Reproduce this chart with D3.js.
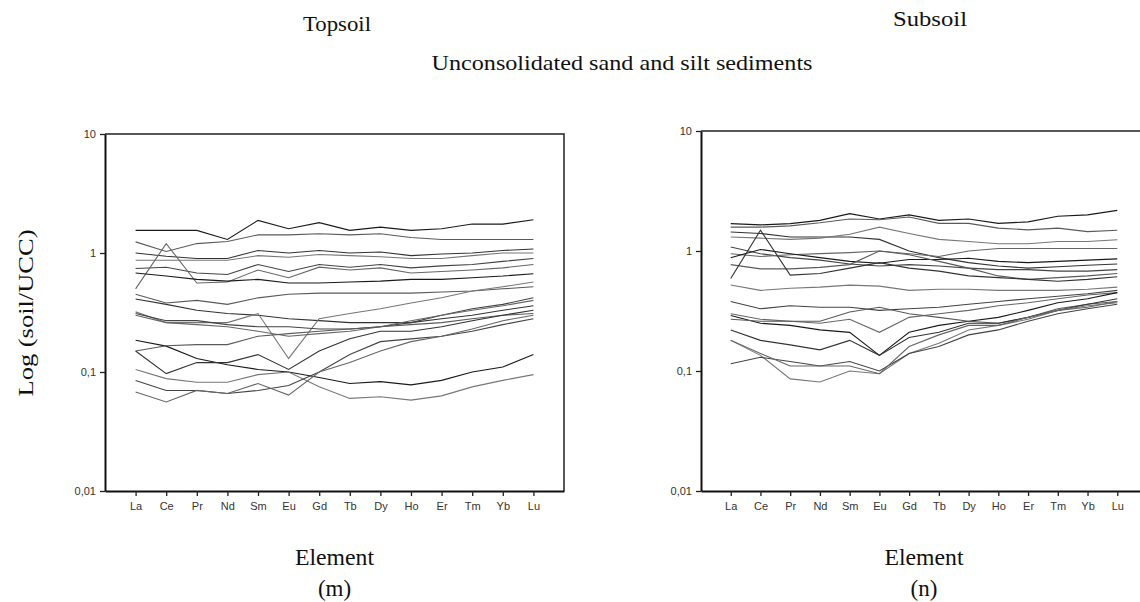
<!DOCTYPE html>
<html>
<head>
<meta charset="utf-8">
<script src="https://cdn.jsdelivr.net/npm/d3@7"></script>
<style>
  body { margin: 0; background: #fff; }
  .serif { font-family: "Liberation Serif", "DejaVu Serif", serif; fill: #111; }
  .tick text { font-family: "Liberation Sans", Arial, sans-serif; font-size: 11px; fill: #333; }
</style>
</head>
<body>
<svg id="chart" width="1140" height="602"></svg>
<script>
// REE elements on the x axis
const elements = ["La", "Ce", "Pr", "Nd", "Sm", "Eu", "Gd", "Tb", "Dy", "Ho", "Er", "Tm", "Yb", "Lu"];

// log axis ticks
const yTicks = [10, 1, 0.1, 0.01];

// Topsoil (m) - one array per sample, La..Lu
const topsoilSeries = [
    [1.55, 1.55, 1.55, 1.3, 1.88, 1.6, 1.8, 1.55, 1.65, 1.55, 1.6, 1.75, 1.75, 1.9],
    [1.24, 1.03, 1.2, 1.25, 1.42, 1.42, 1.45, 1.42, 1.45, 1.35, 1.3, 1.3, 1.3, 1.3],
    [1.0, 0.94, 0.9, 0.9, 1.05, 1.0, 1.05, 1.0, 1.02, 0.95, 0.98, 1.0, 1.05, 1.08],
    [0.87, 0.87, 0.87, 0.87, 0.95, 0.92, 0.97, 0.95, 0.93, 0.9, 0.9, 0.95, 1.0, 1.0],
    [0.74, 0.76, 0.68, 0.66, 0.8, 0.7, 0.8, 0.76, 0.8, 0.75, 0.78, 0.8, 0.85, 0.9],
    [0.5, 1.2, 0.56, 0.57, 0.72, 0.62, 0.76, 0.72, 0.75, 0.68, 0.7, 0.72, 0.75, 0.8],
    [0.68, 0.64, 0.6, 0.58, 0.6, 0.56, 0.56, 0.57, 0.58, 0.6, 0.6, 0.62, 0.64, 0.67],
    [0.45, 0.38, 0.4, 0.37, 0.42, 0.45, 0.46, 0.46, 0.46, 0.46, 0.47, 0.48, 0.5, 0.52],
    [0.41, 0.37, 0.33, 0.31, 0.3, 0.28, 0.27, 0.26, 0.26, 0.26, 0.28, 0.3, 0.33, 0.36],
    [0.32, 0.26, 0.26, 0.26, 0.31, 0.13, 0.28, 0.31, 0.34, 0.38, 0.42, 0.48, 0.52, 0.57],
    [0.31, 0.27, 0.27, 0.25, 0.24, 0.24, 0.23, 0.23, 0.24, 0.26, 0.3, 0.34, 0.37, 0.42],
    [0.3, 0.26, 0.25, 0.24, 0.22, 0.2, 0.21, 0.22, 0.24, 0.27, 0.3, 0.33, 0.36, 0.4],
    [0.185, 0.165, 0.13, 0.115, 0.105, 0.1, 0.09, 0.08, 0.083, 0.078, 0.085, 0.1, 0.11, 0.14],
    [0.15, 0.166, 0.17, 0.17, 0.2, 0.21, 0.22, 0.23, 0.24, 0.25, 0.26, 0.28, 0.3, 0.31],
    [0.15, 0.097, 0.12, 0.12, 0.14, 0.105, 0.15, 0.19, 0.22, 0.22, 0.24, 0.27, 0.3, 0.33],
    [0.105, 0.088, 0.082, 0.082, 0.095, 0.1, 0.075, 0.06, 0.062, 0.058, 0.063, 0.075, 0.085, 0.095],
    [0.085, 0.07, 0.07, 0.066, 0.07, 0.077, 0.1, 0.14, 0.18, 0.19, 0.2, 0.22, 0.25, 0.28],
    [0.068, 0.056, 0.07, 0.066, 0.08, 0.064, 0.1, 0.12, 0.15, 0.18, 0.2, 0.23, 0.27, 0.3]
];

// Subsoil (n)
const subsoilSeries = [
    [1.69, 1.65, 1.69, 1.8, 2.05, 1.85, 2.0, 1.8, 1.85, 1.7, 1.75, 1.95, 2.0, 2.18],
    [1.58, 1.58, 1.62, 1.72, 1.85, 1.82, 1.92, 1.7, 1.7, 1.55, 1.5, 1.55, 1.45, 1.49],
    [1.44, 1.4, 1.31, 1.31, 1.31, 1.25, 1.0, 0.88, 0.8, 0.75, 0.72, 0.74, 0.76, 0.78],
    [1.31, 1.28, 1.25, 1.28, 1.38, 1.58, 1.4, 1.25, 1.2, 1.15, 1.15, 1.2, 1.2, 1.24],
    [1.08, 0.95, 0.88, 0.84, 0.78, 0.75, 0.77, 0.75, 0.72, 0.7, 0.7, 0.68, 0.68, 0.7],
    [0.95, 0.9, 0.93, 0.95, 0.97, 1.0, 0.95, 0.9, 1.0, 1.05, 1.05, 1.05, 1.05, 1.05],
    [0.88, 1.03, 0.95, 0.88, 0.82, 0.79, 0.85, 0.85, 0.87, 0.82, 0.8, 0.82, 0.84, 0.86],
    [0.77, 0.71, 0.71, 0.73, 0.77, 1.0, 0.93, 0.82, 0.72, 0.62, 0.58, 0.6, 0.62, 0.65],
    [0.59, 1.49, 0.63, 0.65, 0.72, 0.8, 0.72, 0.68, 0.62, 0.6, 0.58, 0.56, 0.58, 0.61],
    [0.52, 0.47, 0.49, 0.5, 0.52, 0.51, 0.47, 0.48, 0.48, 0.47, 0.47, 0.47, 0.48, 0.5],
    [0.38, 0.33, 0.35, 0.34, 0.34, 0.32, 0.33, 0.34, 0.36, 0.38, 0.4, 0.42, 0.44, 0.47],
    [0.3, 0.27, 0.26, 0.25, 0.27, 0.21, 0.28, 0.3, 0.32, 0.35, 0.37, 0.4, 0.43, 0.45],
    [0.29, 0.25, 0.24, 0.22, 0.21, 0.135, 0.21, 0.24, 0.26, 0.28, 0.32, 0.37, 0.4, 0.45],
    [0.27, 0.26, 0.26, 0.26, 0.31, 0.34, 0.3, 0.28, 0.26, 0.25, 0.28, 0.33, 0.36, 0.38],
    [0.22, 0.18, 0.165, 0.15, 0.18, 0.135, 0.19, 0.21, 0.25, 0.25, 0.28, 0.32, 0.36, 0.4],
    [0.18, 0.135, 0.086, 0.081, 0.1, 0.095, 0.14, 0.17, 0.22, 0.24, 0.27, 0.32, 0.35, 0.37],
    [0.115, 0.13, 0.12, 0.11, 0.12, 0.1, 0.14, 0.16, 0.2, 0.22, 0.26, 0.3, 0.33, 0.36],
    [0.18, 0.14, 0.11, 0.11, 0.11, 0.095, 0.16, 0.2, 0.24, 0.24, 0.28, 0.32, 0.34, 0.38]
];

const lineColors = ["#1a1a1a", "#5a5a5a", "#333", "#777", "#444", "#666"];

// decimal comma, like the original
const fmt = d3.formatLocale({ decimal: ",", thousands: ".", grouping: [3], currency: ["", ""] }).format("~g");

const svg = d3.select("#chart");

function drawPanel(cfg) {
    const x = d3.scalePoint()
        .domain(elements)
        .range([cfg.left, cfg.right])
        .padding(1);

    const y = d3.scaleLog()
        .domain([0.01, 10])
        .range([cfg.bottom, cfg.top]);

    const g = svg.append("g");

    // frame (top + right)
    g.append("path")
        .attr("d", `M${cfg.left},${cfg.top}H${cfg.right}V${cfg.bottom}`)
        .attr("fill", "none")
        .attr("stroke", "#222")
        .attr("stroke-width", 1.5);

    const line = d3.line()
        .x((d, i) => x(elements[i]))
        .y(d => y(d));

    g.selectAll(".series")
        .data(cfg.series)
        .enter()
        .append("path")
        .attr("class", "series")
        .attr("d", line)
        .attr("fill", "none")
        .attr("stroke", (d, i) => lineColors[i % lineColors.length])
        .attr("stroke-width", 1.1);

    const xAxis = g.append("g")
        .attr("transform", `translate(0,${cfg.bottom})`)
        .call(d3.axisBottom(x).tickSize(5).tickSizeOuter(0).tickPadding(6));

    const yAxis = g.append("g")
        .attr("transform", `translate(${cfg.left},0)`)
        .call(d3.axisLeft(y).tickValues(yTicks).tickFormat(fmt).tickSize(5).tickSizeOuter(0).tickPadding(4));

    [xAxis, yAxis].forEach(a => {
        a.select(".domain").attr("stroke", "#111").attr("stroke-width", 2);
        a.selectAll(".tick line").attr("stroke", "#222").attr("stroke-width", 1.3);
    });

    // axis titles
    g.append("text")
        .attr("class", "serif")
        .attr("x", (cfg.left + cfg.right) / 2)
        .attr("y", 565)
        .attr("text-anchor", "middle")
        .attr("font-size", 24)
        .attr("textLength", 79)
        .attr("lengthAdjust", "spacingAndGlyphs")
        .text("Element");

    g.append("text")
        .attr("class", "serif")
        .attr("x", (cfg.left + cfg.right) / 2)
        .attr("y", 596)
        .attr("text-anchor", "middle")
        .attr("font-size", 23)
        .text(cfg.tag);
}

drawPanel({ left: 105, right: 564, top: 134, bottom: 491, series: topsoilSeries, tag: "(m)" });
drawPanel({ left: 701, right: 1147, top: 131, bottom: 491, series: subsoilSeries, tag: "(n)" });

// headings
svg.append("text")
    .attr("class", "serif")
    .attr("x", 337).attr("y", 31)
    .attr("text-anchor", "middle")
    .attr("font-size", 22)
    .attr("textLength", 68)
    .attr("lengthAdjust", "spacingAndGlyphs")
    .text("Topsoil");

svg.append("text")
    .attr("class", "serif")
    .attr("x", 930).attr("y", 26)
    .attr("text-anchor", "middle")
    .attr("font-size", 22)
    .attr("textLength", 74)
    .attr("lengthAdjust", "spacingAndGlyphs")
    .text("Subsoil");

svg.append("text")
    .attr("class", "serif")
    .attr("x", 622).attr("y", 70)
    .attr("text-anchor", "middle")
    .attr("font-size", 22)
    .attr("textLength", 381)
    .attr("lengthAdjust", "spacingAndGlyphs")
    .text("Unconsolidated sand and silt sediments");

svg.append("text")
    .attr("class", "serif")
    .attr("transform", "translate(33,313) rotate(-90)")
    .attr("text-anchor", "middle")
    .attr("font-size", 22)
    .attr("textLength", 167)
    .attr("lengthAdjust", "spacingAndGlyphs")
    .text("Log (soil/UCC)");
</script>
</body>
</html>
